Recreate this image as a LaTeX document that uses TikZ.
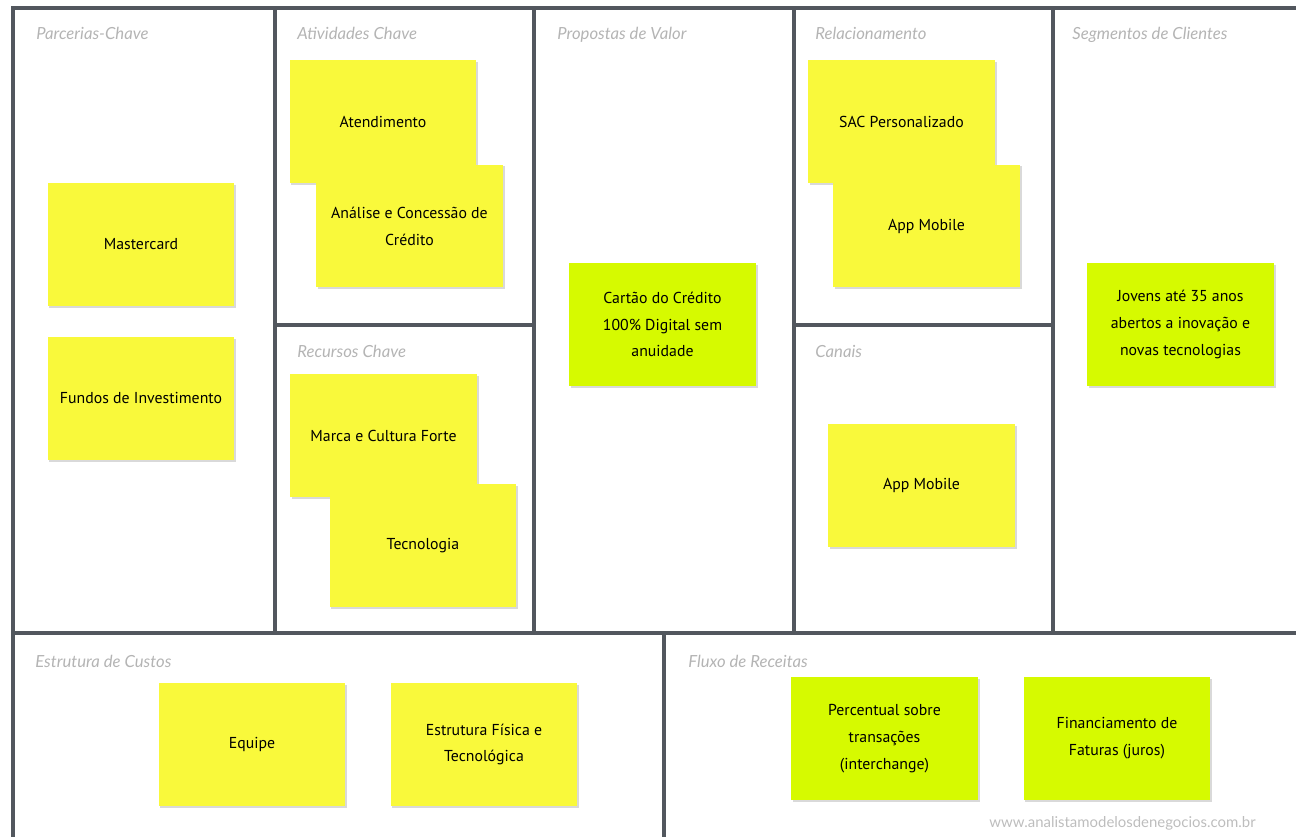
\documentclass[tikz,border=0pt]{standalone}
\usepackage{fontspec}
\setmainfont{Lato}
\newfontfamily\notafont{PT Sans}
\usetikzlibrary{shadows, positioning}
\definecolor{cgrade}{HTML}{52575E}
\definecolor{ctitulo}{HTML}{B4B4B4}
\definecolor{postit}{HTML}{F9F93B}
\definecolor{postitv}{HTML}{D6FA00}
\definecolor{csite}{HTML}{BDBDBD}
\tikzset{
  % linhas do quadro
  linha/.style={line width=2.8pt, cgrade},
  % título de cada bloco
  titulo/.style={anchor=base west, inner sep=0pt, text=ctitulo,
    font=\itshape\fontsize{9.5}{11}\selectfont},
  % post-it amarelo
  nota/.style={fill=postit, minimum width=3.74cm, minimum height=2.46cm,
    align=center, inner sep=0pt,
    font=\notafont\fontsize{9}{15.3}\selectfont,
    drop shadow={shadow xshift=0.9pt, shadow yshift=-0.9pt, opacity=0.3}},
  % post-it verde
  nota verde/.style={nota, fill=postitv},
}

\begin{document}
\begin{tikzpicture}[x=0.02cm, y=-0.02cm]
  \useasboundingbox (0,0) rectangle (1296,837);
  % quadro
  \draw[linha] (1296,8) -| (13,837);
  \draw[linha] (13,633) -- (1296,633);
  \foreach \xg in {275,534,794,1053}
    \draw[linha] (\xg,8) -- (\xg,633);
  \draw[linha] (275,325) -- (534,325);
  \draw[linha] (794,325) -- (1053,325);
  \draw[linha] (664,633) -- (664,837);
  % títulos
  \node[titulo] (tparc) at (36,40) {Parcerias-Chave};
  \node[titulo] (tativ) at (297,40) {Atividades Chave};
  \node[titulo] (tprop) at (557,40) {Propostas de Valor};
  \node[titulo] (trel) at (815,40) {Relacionamento};
  \node[titulo] (tseg) at (1072,40) {Segmentos de Clientes};
  \node[titulo] (trec) at (297,358) {Recursos Chave};
  \node[titulo] (tcan) at (815,358) {Canais};
  \node[titulo] (tcust) at (35,668) {Estrutura de Custos};
  \node[titulo] (tfluxo) at (688,668) {Fluxo de Receitas};
  % post-its
  \node[nota] (master) at (141,244.5) {Mastercard};
  \node[nota] (fundos) at (141,398.5) {Fundos de Investimento};
  \node[nota] (atend) at (383,121.5) {Atendimento};
  \node[nota] (analise) at (409.5,226) {Análise e Concessão de\\Crédito};
  \node[nota] (marca) at (383.5,435.5) {Marca e Cultura Forte};
  \node[nota] (tecno) at (423,545.5) {Tecnologia};
  \node[nota verde] (cartao) at (662.5,324.5) {Cartão do Crédito\\100\% Digital sem\\anuidade};
  \node[nota] (sac) at (901.5,121.5) {SAC Personalizado};
  \node[nota] (apprel) at (926.5,226) {App Mobile};
  \node[nota] (appcan) at (921.5,485.5) {App Mobile};
  \node[nota verde] (jovens) at (1180.5,324.5) {Jovens até 35 anos\\abertos a inovação e\\novas tecnologias};
  \node[nota] (equipe) at (252,744.5) {Equipe};
  \node[nota] (estrut) at (484,744.5) {Estrutura Física e\\Tecnológica};
  \node[nota verde] (percent) at (884.5,738.5) {Percentual sobre\\transações\\(interchange)};
  \node[nota verde] (financ) at (1117,738.5) {Financiamento de\\Faturas (juros)};
  \node[anchor=east, inner sep=0pt, text=csite, font=\fontsize{8.5}{10}\selectfont] (site) at (1256,823) {www.analistamodelosdenegocios.com.br};
\end{tikzpicture}
\end{document}
